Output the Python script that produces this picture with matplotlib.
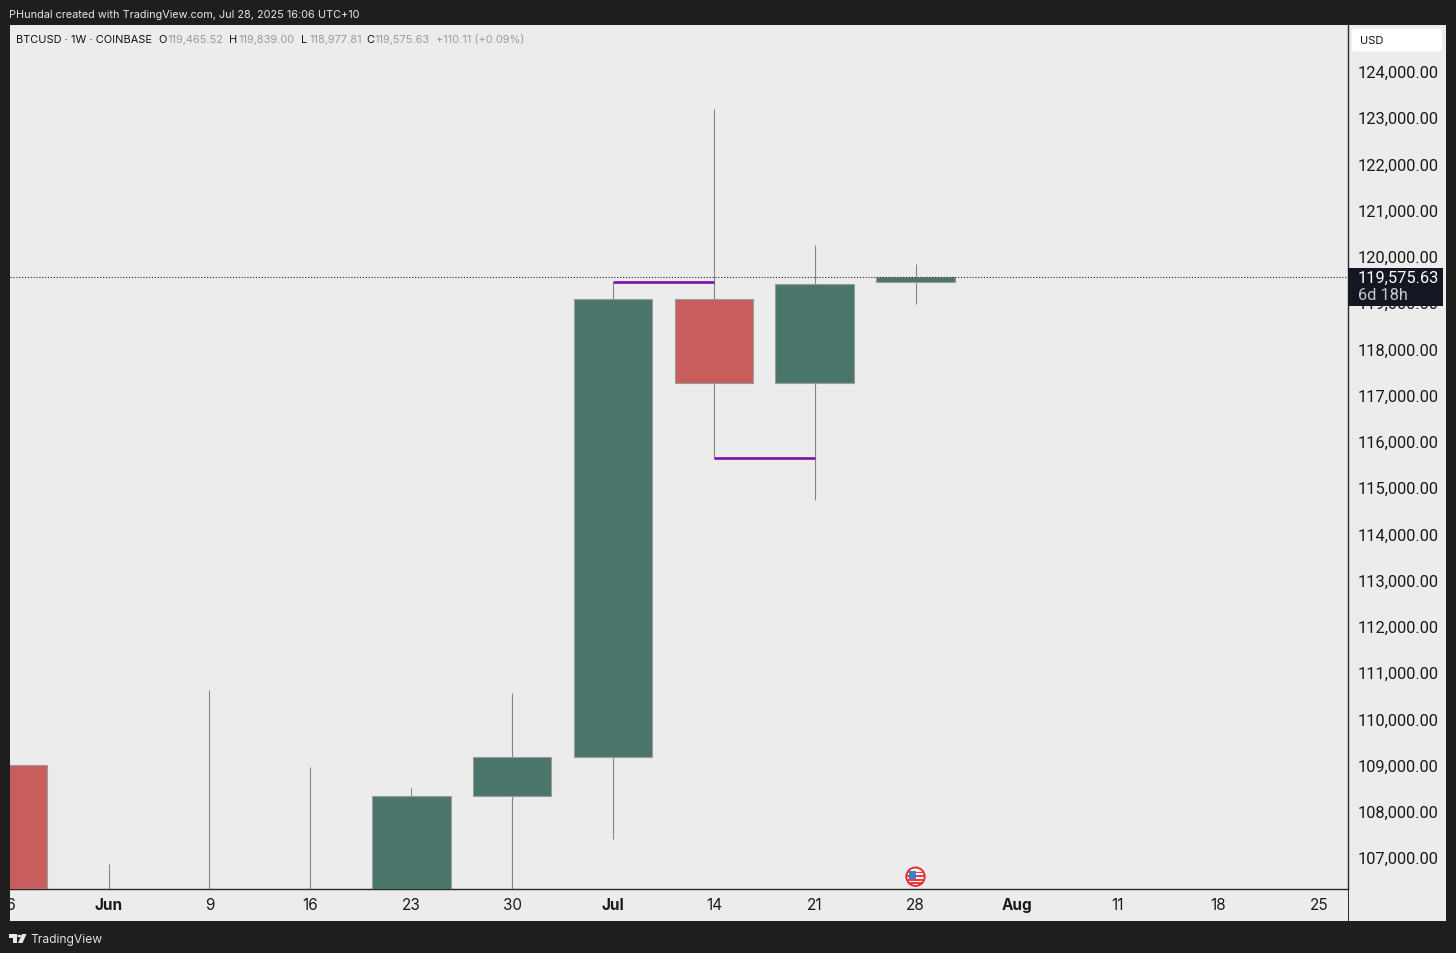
import matplotlib
matplotlib.use("Agg")
import matplotlib.pyplot as plt
from matplotlib.patches import Rectangle, FancyBboxPatch, Circle, Polygon
from matplotlib.transforms import Bbox, Affine2D

# ---- data (USD, weekly) ----
week_labels = ["26", "Jun", "9", "16", "23", "30", "Jul", "14", "21", "28", "Aug", "11", "18", "25"]
bold_labels = ["Jun", "Jul", "Aug"]
candle_weeks = [-1, 0, 1, 2, 3, 4, 5, 6, 7, 8]
opens = [109013, 105700, 105600, 105500, 100900, 108343, 109186, 119091, 117274, 119465.52]
closes = [105700, 105600, 105500, 100900, 108343, 109186, 119091, 117274, 119415, 119575.63]
highs = [109013, 106872, 110635, 108970, 108516, 110570, 119458, 123200, 120259, 119839.00]
lows = [103100, 103700, 103400, 98200, 99600, 105100, 107413, 115652, 114744, 118977.81]
price_ticks = list(range(107000, 125000, 1000))
last_price = 119575.63
level_high = 119458
level_low = 115652
level_high_span = (5, 6)
level_low_span = (6, 7)

GREEN = "#4a756b"
RED = "#c75d5d"
EDGE = "#9b9b9b"
DARK = "#1e1e1e"
PANEL = "#ececec"
W, H = 1456, 954
FONT = "Inter"
NUM = "Roboto"

plt.rcParams["font.family"] = [FONT, "DejaVu Sans"]
fig = plt.figure(figsize=(W / 100, H / 100), dpi=100, facecolor=DARK)


def fx(x):
    return x / W


def fy(y):
    return 1 - (y + 1) / H


def box(x0, y0, x1, y1, **kw):
    p = Rectangle((fx(x0), fy(y1)), (x1 - x0) / W, (y1 - y0) / H,
                  transform=fig.transFigure, linewidth=0, **kw)
    fig.add_artist(p)
    return p


def label(x, y, s, size=8, color="#111111", ha="left", zorder=8, **kw):
    return fig.text(fx(x), fy(y), s, fontsize=size, color=color, ha=ha, va="center", zorder=zorder, **kw)


box(10, 25, 1446, 921, facecolor=PANEL, zorder=-5)

# main chart axes: pixel box 10..1348 x 25..889
ax = fig.add_axes([fx(10), fy(889), (1348 - 10) / W, (889 - 25) / H], facecolor=PANEL)
PX_X = 100.9
PX_Y = 0.04624
ax.set_xlim((10 - 108.5) / PX_X, (1348 - 108.5) / PX_X)
ax.set_ylim(124000 - (889 - 72) / PX_Y, 124000 + (72 - 25) / PX_Y)

for wk, o, c, hi, lo in zip(candle_weeks, opens, closes, highs, lows):
    ax.vlines(wk, lo, hi, color="#858585", linewidth=0.8, zorder=2)
    ax.bar(wk, abs(c - o), bottom=min(o, c), width=0.78, color=GREEN if c >= o else RED,
           edgecolor=EDGE, linewidth=0.8, zorder=3)

ax.hlines(level_high, *level_high_span, color="#7a12a8", linewidth=1.9, zorder=4)
ax.hlines(level_low, *level_low_span, color="#7a12a8", linewidth=1.9, zorder=4)
ax.axhline(last_price, color="#222222", linewidth=0.8, linestyle=(0, (1, 1.6)), zorder=5)

for s in ["left", "top"]:
    ax.spines[s].set_visible(False)
ax.spines["right"].set_color("#2a2a2a")
ax.spines["bottom"].set_color("#2a2a2a")
ax.spines["right"].set_linewidth(1)
ax.spines["bottom"].set_linewidth(1)

ax.yaxis.tick_right()
ax.set_yticks(price_ticks)
ax.set_yticklabels([f"{p:,.2f}" for p in price_ticks], fontfamily=NUM)
ax.tick_params(axis="y", length=0, pad=6.8, labelsize=11.8, labelcolor="#1a1a1a")

tick_pos = [i - 1 for i in range(len(week_labels))]
ax.set_xticks(tick_pos[1:])
ax.set_xticklabels(week_labels[1:])
ax.tick_params(axis="x", length=0, pad=5.8, labelsize=11, labelcolor="#1a1a1a")
for t in ax.get_xticklabels():
    if t.get_text() in bold_labels:
        t.set_fontweight("bold")
for t in ax.yaxis.get_major_ticks():
    t.label2.set_transform(t.label2.get_transform() + Affine2D().translate(0, 1))

# partially clipped first date label
clip_txt = ax.text(tick_pos[0], -0.0092, week_labels[0], transform=ax.get_xaxis_transform(),
                   fontsize=11, color="#1a1a1a", ha="center", va="top", clip_on=True)
clip_txt.set_clip_box(Bbox([[10, 0], [1348, H]]))

# continuation of the scale separator under the axis
box(1347.5, 889, 1348.5, 921, facecolor="#2a2a2a", zorder=6)

# currency chip
chip = FancyBboxPatch((fx(1353), fy(50.5)), 88 / W, 21 / H, boxstyle="round,pad=0,rounding_size=0.002",
                      transform=fig.transFigure, facecolor="white", edgecolor="white", linewidth=1.5, zorder=6)
fig.add_artist(chip)
label(1360, 40, "USD", size=8)

# last price tag
box(1348, 268, 1443, 306, facecolor="#131722", zorder=6)
label(1358, 277.5, f"{last_price:,.2f}", size=11.8, color="white", family=NUM)
label(1358, 295, "6d 18h", size=11.8, color="#c8c8c8", family=NUM)

# top / bottom strip text
label(9, 14, "PHundal created with TradingView.com, Jul 28, 2025 16:06 UTC+10", size=7.85, color="#e8e8e8")
label(16, 39, "BTCUSD · 1W · COINBASE", size=7.9)
GREY = "#9a9a9a"
HS = 7.9
label(158, 39, "O", size=HS)
label(167, 39, f"{opens[-1]:,.2f}", size=HS, color=GREY)
label(229, 39, "H", size=HS)
label(238, 39, f"{highs[-1]:,.2f}", size=HS, color=GREY)
label(301, 39, "L", size=HS)
label(309, 39, f"{lows[-1]:,.2f}", size=HS, color=GREY)
label(366, 39, "C", size=HS)
label(374, 39, f"{closes[-1]:,.2f}", size=HS, color=GREY)
label(436, 39, "+110.11 (+0.09%)", size=HS, color=GREY)
label(30, 939, "TradingView", size=8.7, color="#e0e0e0")


def poly(points, **kw):
    fig.add_artist(Polygon([(fx(x), fy(y)) for x, y in points], closed=True,
                           transform=fig.transFigure, linewidth=0, zorder=7, **kw))


# logo
poly([(9, 934), (17, 934), (17, 943), (13, 943), (13, 938), (9, 938)], facecolor="#e8e8e8")
fig.add_artist(Circle((fx(19.2), fy(936)), 1.9 / W, transform=fig.transFigure, facecolor="#e8e8e8", linewidth=0, zorder=7))
poly([(22, 934), (26.5, 934), (22.5, 943), (18, 943)], facecolor="#e8e8e8")

# economic-event flag marker
ev_x, ev_y = 915.5, 876.7
marker = fig.add_axes([fx(ev_x - 12), fy(ev_y + 12), 24 / W, 24 / H], zorder=7)
marker.set_xlim(-12, 12)
marker.set_ylim(-12, 12)
marker.set_aspect("equal")
marker.axis("off")
disc = Circle((0, 0), 9.2, facecolor="white", edgecolor="#f0262c", linewidth=1.4)
marker.add_patch(disc)
for yy in (3.4, -0.2, -3.8, -7.4):
    s = Rectangle((-9, yy), 18, 1.8, facecolor="#f0383c", linewidth=0)
    marker.add_patch(s)
    s.set_clip_path(disc)
canton = Rectangle((-6.5, -2), 7, 8, facecolor="#3f7fc4", linewidth=0)
marker.add_patch(canton)
canton.set_clip_path(disc)

fig.savefig("out.png", dpi=100, facecolor=DARK)
